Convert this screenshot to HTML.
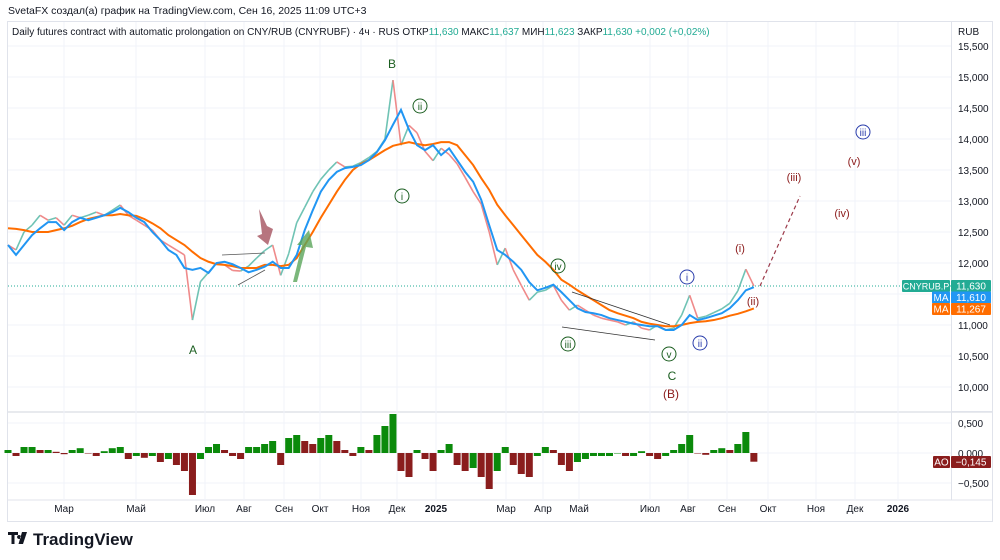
<!DOCTYPE html>
<html><head><meta charset="utf-8">
<style>
body{margin:0;background:#fff;font-family:"Liberation Sans","Noto Sans CJK SC",sans-serif;}
#wrap{position:relative;width:1000px;height:560px;overflow:hidden;background:#fff;}
svg text{font-family:"Liberation Sans",sans-serif;}
</style></head>
<body>
<div id="wrap">
<svg id="chart" width="1000" height="560" viewBox="0 0 1000 560">
  <text x="8" y="14" font-size="10.5" fill="#131722">SvetaFX создал(а) график на TradingView.com, Сен 16, 2025 11:09 UTC+3</text>
  <rect x="7.5" y="21.5" width="985" height="500" fill="none" stroke="#e0e3eb"/>
  <g id="grid"></g>
  <g id="ao"></g>
  <g id="series"></g>
  <text x="12" y="35" font-size="10" fill="#131722">Daily futures contract with automatic prolongation on CNY/RUB (CNYRUBF) · 4ч · RUS  ОТКР<tspan fill="#22ab94">11,630</tspan>  МАКС<tspan fill="#22ab94">11,637</tspan>  МИН<tspan fill="#22ab94">11,623</tspan>  ЗАКР<tspan fill="#22ab94">11,630</tspan>  <tspan fill="#22ab94">+0,002 (+0,02%)</tspan></text>
  <rect x="951.5" y="21.5" width="41" height="390" fill="#fff" stroke="#e0e3eb"/>
  <text x="958" y="35" font-size="10" fill="#131722">RUB</text>
  <g id="yaxis"></g>
  <g font-size="12">
    <text x="193" y="354" fill="#1b5e20" text-anchor="middle">A</text>
    <text x="392" y="68" fill="#1b5e20" text-anchor="middle">B</text>
    <text x="672" y="380" fill="#1b5e20" text-anchor="middle">C</text>
    <text x="671" y="398" fill="#8b1a1a" text-anchor="middle">(B)</text>
    <g fill="none" stroke-width="1">
      <circle cx="420" cy="106" r="7" stroke="#1b5e20"/><circle cx="402" cy="196" r="7" stroke="#1b5e20"/>
      <circle cx="558" cy="266" r="7" stroke="#1b5e20"/><circle cx="568" cy="344" r="7" stroke="#1b5e20"/>
      <circle cx="669" cy="354" r="7" stroke="#1b5e20"/>
      <circle cx="687" cy="277" r="7" stroke="#2a3dab"/><circle cx="700" cy="343" r="7" stroke="#2a3dab"/>
      <circle cx="863" cy="132" r="7" stroke="#2a3dab"/>
    </g>
    <g font-size="10" text-anchor="middle">
      <text x="420" y="110" fill="#1b5e20">ii</text><text x="402" y="200" fill="#1b5e20">i</text>
      <text x="558" y="270" fill="#1b5e20">iv</text><text x="568" y="348" fill="#1b5e20">iii</text>
      <text x="669" y="358" fill="#1b5e20">v</text>
      <text x="687" y="281" fill="#2a3dab">i</text><text x="700" y="347" fill="#2a3dab">ii</text>
      <text x="863" y="136" fill="#2a3dab">iii</text>
    </g>
    <g font-size="11" fill="#8b1a1a" text-anchor="middle">
      <text x="740" y="252">(i)</text><text x="753" y="305">(ii)</text>
      <text x="794" y="181">(iii)</text><text x="842" y="217">(iv)</text><text x="854" y="165">(v)</text>
    </g>
  </g>
  <g>
    <line x1="222" y1="255" x2="265" y2="253" stroke="#555" stroke-width="0.8"/>
    <line x1="238" y1="285" x2="265" y2="270" stroke="#555" stroke-width="0.8"/>
    <line x1="572" y1="292" x2="670" y2="325" stroke="#333" stroke-width="0.8"/>
    <line x1="562" y1="327" x2="655" y2="340" stroke="#333" stroke-width="0.8"/>
    <line x1="760" y1="286" x2="800" y2="196" stroke="#9c3a4a" stroke-width="1.2" stroke-dasharray="4,3"/>
    <polygon points="259,209 267,226 273,229 268,245 257,236 262,234" fill="#a5525f" opacity="0.8"/>
    <polygon points="293,282 302,245 297,245 309,230 313,248 306,247 297,282" fill="#5aa55a" opacity="0.8"/>
  </g>
  <g id="badges"></g>
  <g id="xaxis"></g>
  <g>
    <path d="M8 532h10v3h-3.5v9h-3v-9H8z M19 535a2 2 0 1 0 0.1 0z M22 532h5l-4 12h-4.5z" fill="#131722"/>
    <text x="33" y="545" font-size="17" font-weight="bold" fill="#131722">TradingView</text>
  </g>
</svg>
</div>
<script>
const closes=[12290,12210,12500,12610,12770,12690,12730,12610,12770,12730,12770,12820,12770,12850,12935,12770,12690,12610,12530,12370,12290,12210,12130,11080,11700,11850,12000,11970,11880,11870,11950,12080,12200,12290,11800,12150,12650,12900,13150,13350,13500,13630,13550,13560,13620,13700,13800,14000,14950,13900,14220,14100,13800,13650,13850,13750,13600,13380,13150,12950,12500,11970,12240,11890,11640,11400,11530,11560,11640,11400,11240,11320,11240,11160,11110,11080,11050,11000,11050,10950,10920,11000,10920,10950,11160,11480,11110,11140,11200,11260,11350,11550,11900,11630];
const maFast=[12290,12130,12290,12450,12560,12660,12660,12530,12660,12730,12690,12730,12770,12820,12890,12820,12730,12660,12500,12370,12210,12130,11920,11890,11920,11840,12000,12020,11980,11920,11850,11890,11940,12020,11920,11920,12130,12530,12850,13150,13340,13470,13530,13550,13580,13660,13790,13980,14230,14470,14150,13900,13820,13900,13740,13850,13660,13470,13310,13020,12610,12210,12130,12020,11890,11690,11560,11600,11650,11530,11400,11270,11210,11190,11160,11110,11080,11050,11020,11000,10980,10980,10920,10920,11000,11160,11080,11110,11150,11190,11270,11400,11560,11610];
const maSlow=[12560,12550,12530,12500,12500,12500,12530,12560,12600,12660,12710,12740,12770,12770,12790,12770,12760,12710,12640,12560,12450,12370,12290,12180,12080,12020,11980,11970,11950,11920,11920,11920,11970,11970,11950,11970,12080,12290,12500,12730,12940,13150,13340,13500,13600,13660,13740,13820,13890,13920,13950,13920,13900,13920,13950,13950,13900,13740,13580,13370,13180,12940,12770,12610,12450,12290,12130,12020,11890,11730,11650,11560,11480,11400,11320,11240,11190,11150,11110,11050,11020,11000,10980,10980,11000,11030,11050,11060,11080,11110,11150,11180,11220,11267];
const aoValues=[0.05,-0.05,0.1,0.1,0.05,0.05,0.02,-0.02,0.05,0.08,0.0,-0.05,0.03,0.08,0.1,-0.1,-0.05,-0.08,-0.05,-0.15,-0.1,-0.2,-0.3,-0.7,-0.1,0.1,0.15,0.05,-0.05,-0.1,0.1,0.1,0.15,0.2,-0.2,0.25,0.3,0.2,0.15,0.25,0.3,0.2,0.05,-0.05,0.1,0.05,0.3,0.45,0.65,-0.3,-0.4,0.05,-0.1,-0.3,0.05,0.15,-0.2,-0.3,-0.25,-0.4,-0.6,-0.3,0.1,-0.2,-0.35,-0.4,-0.05,0.1,0.05,-0.2,-0.3,-0.15,-0.1,-0.05,-0.05,-0.05,0.0,-0.05,-0.05,0.03,-0.05,-0.1,-0.05,0.05,0.15,0.3,0.0,-0.03,0.05,0.08,0.05,0.15,0.35,-0.145];
const priceTicks=[15500,15000,14500,14000,13500,13000,12500,12000,11500,11000,10500,10000];
const aoTicks=[0.5,0,-0.5];
const monthLabels=["Мар","Май","Июл","Авг","Сен","Окт","Ноя","Дек","2025","Мар","Апр","Май","Июл","Авг","Сен","Окт","Ноя","Дек","2026"];
const monthPos=[64,136,205,244,284,320,361,397,436,506,543,579,650,688,727,768,816,855,898];
const lastPrice=11630, lastFast=11610, lastSlow=11267, lastAO=-0.145;

const NS="http://www.w3.org/2000/svg";
const xS=i=>8+i*8.02;
const yP=p=>46+(15500-p)*0.062;
const yA=v=>453-v*60;
function mk(tag,attrs,parent){const e=document.createElementNS(NS,tag);for(const k in attrs)e.setAttribute(k,attrs[k]);parent.appendChild(e);return e;}
const grid=document.getElementById('grid'),series=document.getElementById('series'),ao=document.getElementById('ao'),ya=document.getElementById('yaxis'),xa=document.getElementById('xaxis'),bd=document.getElementById('badges');

priceTicks.forEach(p=>{
  const y=yP(p);
  const l=mk('line',{x1:8,x2:951,y1:y,y2:y,stroke:'#f0f3fa'},grid);
  
  
  const t=mk('text',{x:958,y:y+4,'font-size':10,fill:'#131722'},ya);t.textContent=p.toLocaleString('en-US');
  
  
});
mk('line',{x1:8,x2:992,y1:412,y2:412,stroke:'#d1d4dc'},grid);
aoTicks.forEach(v=>{
  const y=yA(v);
  mk('line',{x1:8,x2:951,y1:y,y2:y,stroke:'#f0f3fa'},grid);
  const t=mk('text',{x:958,y:y+4,'font-size':10,fill:'#131722'},ya);t.textContent=(v<0?'−':'')+Math.abs(v).toFixed(3).replace('.',',');
  
  
});
mk('line',{x1:951.5,x2:951.5,y1:412,y2:500,stroke:'#e0e3eb'},grid);
mk('line',{x1:8,x2:992,y1:500,y2:500,stroke:'#e0e3eb'},grid);
monthLabels.forEach((m,i)=>{
  const x=monthPos[i];
  mk('line',{x1:x,x2:x,y1:22,y2:500,stroke:'#f0f3fa'},grid);
  const t=mk('text',{x:x,y:512,'font-size':10,fill:'#131722','text-anchor':'middle','font-weight':(m.length===4&&!isNaN(m))?'bold':'normal'},xa);
  t.textContent=m;
  
  
});
mk('line',{x1:8,x2:951,y1:yP(lastPrice),y2:yP(lastPrice),stroke:'#22ab94','stroke-dasharray':'1,2','stroke-width':1},grid);

aoValues.forEach((v,i)=>{
  const up=i===0||v>=aoValues[i-1];
  const y0=yA(0),y1=yA(v);
  const r=mk('rect',{x:xS(i)-3.5,width:7,y:Math.min(y0,y1),height:Math.max(0.5,Math.abs(y1-y0)),fill:up?'#0b8a0b':'#8a1d1d'},ao);
  
  
});
for(let i=1;i<closes.length;i++){
  const up=closes[i]>=closes[i-1];
  const s=mk('line',{x1:xS(i-1),y1:yP(closes[i-1]),x2:xS(i),y2:yP(closes[i]),stroke:up?'#6fc3b4':'#ef8a8a','stroke-width':1.6},series);
  
  
}
function poly(arr,color,name){
  const p=mk('polyline',{points:arr.map((v,i)=>xS(i)+','+yP(v)).join(' '),fill:'none',stroke:color,'stroke-width':2},series);
  
  
}
poly(maSlow,'#ff6d00','ma-slow-line');
poly(maFast,'#2196f3','ma-fast-line');

function badge(x,w,y,color,txt,name,fs){
  mk('rect',{x:x,y:y-6,width:w,height:12,fill:color,rx:1},bd);
  const t=mk('text',{x:x+w/2,y:y+3.5,'font-size':fs||10,fill:'#fff','text-anchor':'middle'},bd);t.textContent=txt;
  
  
}
const fmt=v=>v.toLocaleString('en-US');
badge(902,48,yP(lastPrice),'#22ab94','CNYRUB.P','symbol-badge',9);
badge(951,40,yP(lastPrice),'#22ab94',fmt(lastPrice),'last-price-badge');
badge(932,18,yP(lastPrice)+11.5,'#2196f3','MA','ma-fast-badge');
badge(951,40,yP(lastPrice)+11.5,'#2196f3',fmt(lastFast),'ma-fast-value');
badge(932,18,yP(lastPrice)+23,'#ff6d00','MA','ma-slow-badge');
badge(951,40,yP(lastPrice)+23,'#ff6d00',fmt(lastSlow),'ma-slow-value');
badge(933,17,462,'#8a1d1d','AO','ao-badge');
badge(951,40,462,'#8a1d1d','−'+Math.abs(lastAO).toFixed(3).replace('.',','),'ao-value');
</script>
</body></html>
